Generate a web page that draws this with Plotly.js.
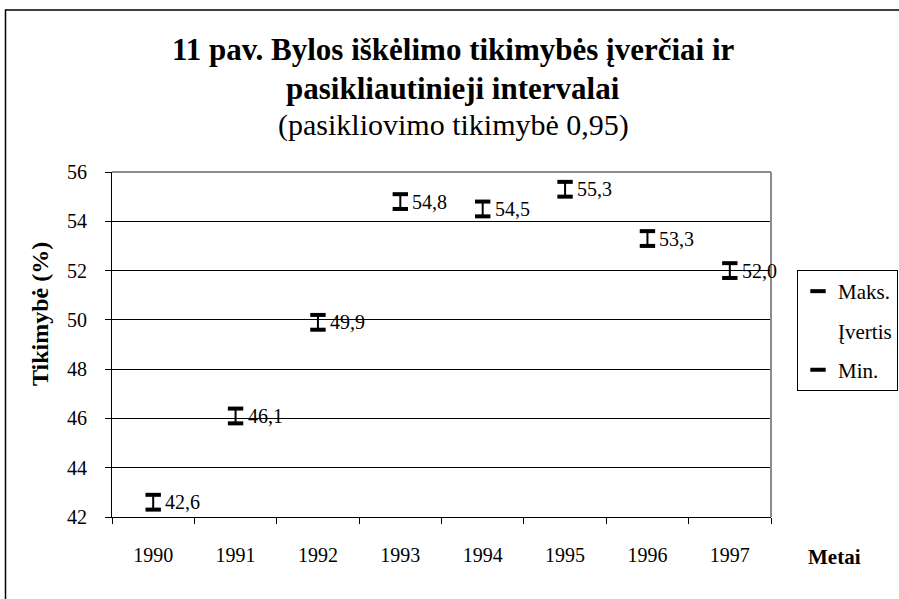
<!DOCTYPE html>
<html>
<head>
<meta charset="utf-8">
<script src="https://cdn.plot.ly/plotly-3.0.1.min.js"></script>
<style>
html,body{margin:0;padding:0;background:#fff;}
#chart{width:899px;height:599px;}
</style>
</head>
<body>
<div id="chart"></div>
<script>
// Data
var years = ['1990','1991','1992','1993','1994','1995','1996','1997'];
var estimate = [42.6, 46.1, 49.9, 54.8, 54.5, 55.3, 53.3, 52.0];
var maxVals  = [42.9, 46.4, 50.2, 55.1, 54.8, 55.6, 53.6, 52.3];
var minVals  = [42.3, 45.8, 49.6, 54.5, 54.2, 55.0, 53.0, 51.7];
var yTicks = [42, 44, 46, 48, 50, 52, 54, 56];

var FONT = '"Liberation Serif", "Times New Roman", serif';

// vertical connector lines (high-low lines)
var lx = [], ly = [];
for (var i = 0; i < years.length; i++) {
  lx.push(years[i], years[i], null);
  ly.push(minVals[i], maxVals[i], null);
}

var traces = [
  {x: lx, y: ly, mode: 'lines', line: {color: '#000', width: 2},
   showlegend: false, hoverinfo: 'skip'},
  {x: years, y: maxVals, name: 'Maks.', mode: 'markers', legendgroup: 'a',
   marker: {symbol: 'line-ew', size: 11, color: '#000', line: {color: '#000', width: 4}}},
  {x: years, y: estimate, name: 'Įvertis', mode: 'markers', legendgroup: 'b',
   marker: {size: 1, color: 'rgba(0,0,0,0)'}},
  {x: years, y: minVals, name: 'Min.', mode: 'markers', legendgroup: 'c',
   marker: {symbol: 'line-ew', size: 11, color: '#000', line: {color: '#000', width: 4}}}
];

var L = 112, R = 128, T = 172, B = 82;
var PW = 899 - L - R, PH = 599 - T - B;
function px(x) { return (x - L) / PW; }
function py(y) { return (599 - B - y) / PH; }

var annotations = [];
// value labels (category axis: use category index)
for (var j = 0; j < years.length; j++) {
  annotations.push({
    x: j, y: estimate[j], xref: 'x', yref: 'y',
    text: estimate[j].toFixed(1).replace('.', ','),
    showarrow: false, xanchor: 'left', yanchor: 'middle', xshift: 10,
    font: {family: FONT, size: 20, color: '#000'}
  });
}
// titles
annotations.push({x: px(453), y: py(50), xref: 'paper', yref: 'paper', showarrow: false,
  text: '<b>11 pav. Bylos iškėlimo tikimybės įverčiai ir</b>', xanchor: 'center', yanchor: 'middle',
  font: {family: FONT, size: 31, color: '#000'}});
annotations.push({x: px(453), y: py(88), xref: 'paper', yref: 'paper', showarrow: false,
  text: '<b>pasikliautinieji intervalai</b>', xanchor: 'center', yanchor: 'middle',
  font: {family: FONT, size: 31, color: '#000'}});
annotations.push({x: px(453), y: py(125), xref: 'paper', yref: 'paper', showarrow: false,
  text: '(pasikliovimo tikimybė 0,95)', xanchor: 'center', yanchor: 'middle',
  font: {family: FONT, size: 30, color: '#000'}});
// axis titles
annotations.push({x: px(40), y: py(314), xref: 'paper', yref: 'paper', showarrow: false,
  text: '<b>Tikimybė (%)</b>', textangle: -90, xanchor: 'center', yanchor: 'middle',
  font: {family: FONT, size: 24, color: '#000'}});
annotations.push({x: px(835), y: py(557), xref: 'paper', yref: 'paper', showarrow: false,
  text: '<b>Metai</b>', xanchor: 'center', yanchor: 'middle',
  font: {family: FONT, size: 21, color: '#000'}});

var layout = {
  width: 899, height: 599,
  margin: {l: L, r: R, t: T, b: B, pad: 0, autoexpand: false},
  paper_bgcolor: '#fff', plot_bgcolor: '#fff',
  font: {family: FONT, size: 20, color: '#000'},
  showlegend: true,
  legend: {
    x: px(797), y: py(270), xanchor: 'left', yanchor: 'top',
    xref: 'paper', yref: 'paper',
    bordercolor: '#000', borderwidth: 1, bgcolor: '#fff',
    font: {family: FONT, size: 21, color: '#000'},
    traceorder: 'grouped', tracegroupgap: 9, itemwidth: 30
  },
  xaxis: {
    type: 'category', range: [-0.5, 7.5],
    showgrid: false, zeroline: false,
    showline: true, linecolor: '#000', linewidth: 1,
    ticks: 'outside', tickson: 'boundaries', ticklen: 6, tickcolor: '#000',
    ticklabelstandoff: 20,
    tickfont: {family: FONT, size: 20, color: '#000'}
  },
  yaxis: {
    range: [42, 56], tickvals: yTicks, ticktext: yTicks.map(String),
    showgrid: true, gridcolor: '#000', gridwidth: 1,
    zeroline: false, showline: true, linecolor: '#000', linewidth: 1,
    ticks: 'outside', ticklen: 6, tickcolor: '#000',
    ticklabelstandoff: 14,
    tickfont: {family: FONT, size: 20, color: '#000'}
  },
  annotations: annotations,
  shapes: [
    {type: 'line', xref: 'paper', yref: 'paper', x0: 0, x1: 1, y0: 1, y1: 1,
     line: {color: '#8c8c8c', width: 2}, layer: 'above'},
    {type: 'line', xref: 'paper', yref: 'paper', x0: 1, x1: 1, y0: 0, y1: 1,
     line: {color: '#8c8c8c', width: 2}, layer: 'above'},
    {type: 'rect', xref: 'paper', yref: 'paper',
     x0: px(5.5), x1: px(910), y0: py(610), y1: py(10),
     line: {color: '#000', width: 1.5}, layer: 'below'}
  ]
};

Plotly.newPlot('chart', traces, layout, {displayModeBar: false, staticPlot: true});
</script>
</body>
</html>
